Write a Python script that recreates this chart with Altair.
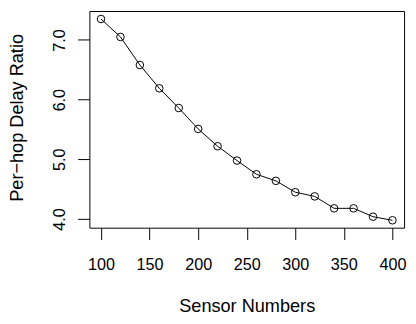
import altair as alt
import pandas as pd

sensors = [100, 120, 140, 160, 180, 200, 220, 240, 260, 280, 300, 320, 340, 360, 380, 400]
ratio = [7.35, 7.05, 6.58, 6.19, 5.86, 5.51, 5.22, 4.98, 4.75, 4.64, 4.45, 4.38, 4.18, 4.18, 4.04, 3.98]
x_ticks = [100, 150, 200, 250, 300, 350, 400]
y_ticks = [4.0, 4.5, 5.0, 5.5, 6.0, 6.5, 7.0]

df = pd.DataFrame({"x": sensors, "y": ratio})

W, H = 321, 221
FONT = "Liberation Sans"
SW = 1
SC = "black"

xenc = alt.X("x:Q", scale=alt.Scale(domain=[88, 412], nice=False, zero=False),
             axis=alt.Axis(values=x_ticks, title="Sensor Numbers", grid=False, domain=False,
                           tickColor=SC, tickSize=12, tickWidth=SW,
                           labelFont=FONT, labelFontSize=16.5, labelColor="black", labelPadding=18,
                           labelFlush=False, labelOverlap=False,
                           titleFont=FONT, titleFontSize=18.5, titleFontWeight="normal", titleColor="black",
                           titleX=W / 2, titleY=80, titleBaseline="middle", titleAlign="center"))
yenc = alt.Y("y:Q", scale=alt.Scale(domain=[3.856, 7.484], nice=False, zero=False),
             axis=alt.Axis(values=y_ticks, title="Per\u2212hop Delay Ratio", grid=False, domain=False,
                           tickColor=SC, tickSize=12, tickWidth=SW,
                           labelExpr="datum.value % 1 == 0 ? format(datum.value, '.1f') : ''",
                           labelFont=FONT, labelFontSize=16.5, labelColor="black", labelPadding=13,
                           labelAngle=270, labelAlign="center", labelBaseline="alphabetic",
                           labelFlush=False, labelOverlap=False,
                           titleFont=FONT, titleFontSize=18.5, titleFontWeight="normal", titleColor="black",
                           titleAngle=270, titleX=-74, titleY=108.5, titleAlign="center", titleBaseline="middle"))

base = alt.Chart(df)
line = base.mark_line(color="black", strokeWidth=1).encode(x=xenc, y=yenc)
pts = base.mark_point(shape="circle", filled=False, color="black", strokeWidth=1, size=60, opacity=1).encode(x="x:Q", y="y:Q")

chart = alt.layer(line, pts).properties(
    width=W, height=H,
    autosize=alt.AutoSizeParams(type="none"),
    padding={"left": 83, "top": 0, "right": 4, "bottom": 87},
    background="white",
).configure_view(stroke=SC, strokeWidth=SW)

chart.save("out.html", embed_options={"renderer": "svg", "actions": False})
